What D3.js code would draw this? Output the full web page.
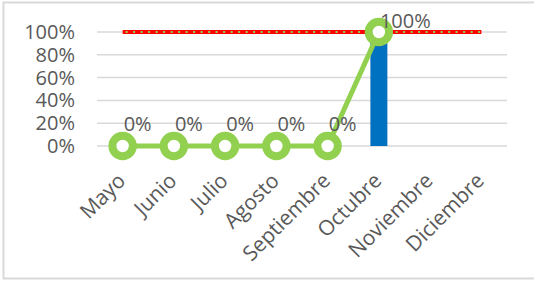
<!DOCTYPE html>
<html>
<head>
<meta charset="utf-8">
<script src="https://cdn.jsdelivr.net/npm/d3@7"></script>
<style>
  body { margin: 0; background: #fff; }
  text { font-family: "Open Sans", "Liberation Sans", sans-serif; fill: #595959; }
</style>
</head>
<body>
<div id="chart"></div>
<script>
const meses = ["Mayo", "Junio", "Julio", "Agosto", "Septiembre", "Octubre", "Noviembre", "Diciembre"]
const avance = [0, 0, 0, 0, 0, 1]          // green line, Mayo..Octubre
const barras = [null, null, null, null, null, 1, null, null] // blue bar
const meta = [1, 1, 1, 1, 1, 1, 1, 1]       // red target line
const yTicks = [0, 0.2, 0.4, 0.6, 0.8, 1]

const width = 534, height = 281
const margin = { top: 32, right: 27, bottom: 135, left: 97 }

const svg = d3.select("#chart")
    .append("svg")
    .attr("width", width)
    .attr("height", height)

// outer frame
svg.append("rect")
    .attr("x", 3.5).attr("y", 2.5)
    .attr("width", width + 10).attr("height", 276)
    .attr("fill", "none")
    .attr("stroke", "#d9d9d9")
    .attr("stroke-width", 2)

const x = d3.scaleBand()
    .domain(meses)
    .range([margin.left, width - margin.right])

const y = d3.scaleLinear()
    .domain([0, 1])
    .range([height - margin.bottom, margin.top])

const fmt = d3.format(".0%")
const cx = d => x(d) + x.bandwidth() / 2

// gridlines
svg.append("g")
    .selectAll("line")
    .data(yTicks)
    .enter().append("line")
    .attr("x1", margin.left)
    .attr("x2", width - margin.right)
    .attr("y1", d => y(d))
    .attr("y2", d => y(d))
    .attr("stroke", "#d9d9d9")
    .attr("stroke-width", 1.5)

// y-axis labels
const yaxis = d3.axisLeft(y)
    .tickValues(yTicks)
    .tickFormat(fmt)
    .tickSize(0)
    .tickPadding(22)

svg.append("g")
    .attr("transform", `translate(${margin.left},0)`)
    .call(yaxis)
    .call(g => g.select(".domain").remove())
    .selectAll("text")
    .attr("font-size", 20)
    .attr("fill", "#595959")
    .style("font-family", "'Open Sans', sans-serif")

// x-axis labels
const xaxis = d3.axisBottom(x).tickSize(0).tickPadding(0)

svg.append("g")
    .attr("transform", `translate(0,${y(0)})`)
    .call(xaxis)
    .call(g => g.select(".domain").remove())
    .selectAll("text")
    .attr("font-size", 21)
    .attr("fill", "#595959")
    .style("font-family", "'Open Sans', sans-serif")
    .style("text-anchor", "end")
    .attr("dx", "0")
    .attr("dy", "0")
    .attr("y", 0)
    .attr("transform", "translate(4,36) rotate(-45)")

// blue bar
const barW = 17
svg.append("g")
    .selectAll("rect")
    .data(meses.map((m, i) => ({ mes: m, v: barras[i] })).filter(d => d.v != null))
    .enter().append("rect")
    .attr("x", d => cx(d.mes) - barW / 2)
    .attr("y", d => y(d.v))
    .attr("width", barW)
    .attr("height", d => y(0) - y(d.v))
    .attr("fill", "#0070c0")

// red target line with green dots
const metaData = meses.map((m, i) => ({ mes: m, v: meta[i] }))
const line = d3.line()
    .x(d => cx(d.mes))
    .y(d => y(d.v))

svg.append("path")
    .datum(metaData)
    .attr("d", line)
    .attr("fill", "none")
    .attr("stroke", "#ff0000")
    .attr("stroke-width", 4)

svg.append("path")
    .datum(metaData)
    .attr("d", line)
    .attr("fill", "none")
    .attr("stroke", "#92d050")
    .attr("stroke-width", 2)
    .attr("stroke-dasharray", "2,5.5")
    .attr("stroke-dashoffset", -3)

// green progress line
const avData = avance.map((v, i) => ({ mes: meses[i], v: v }))
svg.append("path")
    .datum(avData)
    .attr("d", line)
    .attr("fill", "none")
    .attr("stroke", "#92d050")
    .attr("stroke-width", 5)

svg.append("g")
    .selectAll("circle")
    .data(avData)
    .enter().append("circle")
    .attr("cx", d => cx(d.mes))
    .attr("cy", d => y(d.v))
    .attr("r", 10.2)
    .attr("fill", "#fff")
    .attr("stroke", "#92d050")
    .attr("stroke-width", 8)

// data labels (kept inside the top of the plot, like Excel does)
svg.append("g")
    .selectAll("text")
    .data(avData)
    .enter().append("text")
    .attr("x", d => cx(d.mes) + 1)
    .attr("y", d => Math.max(y(d.v) - 15, 28))
    .attr("font-size", 20)
    .attr("fill", "#595959")
    .text(d => fmt(d.v))
</script>
</body>
</html>
